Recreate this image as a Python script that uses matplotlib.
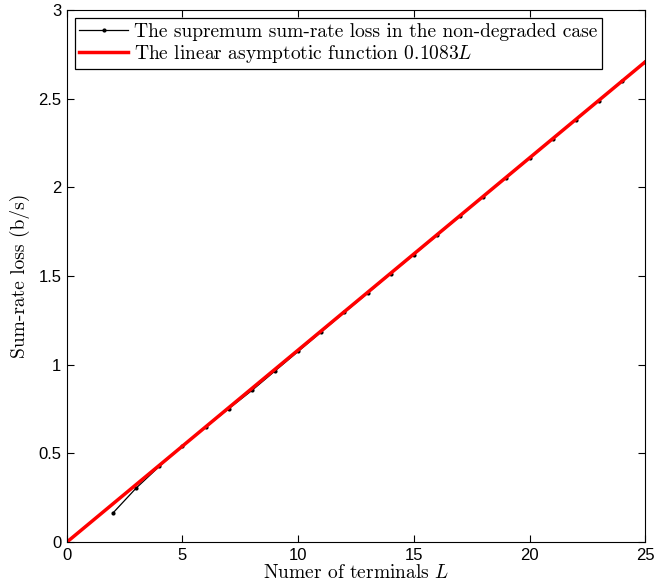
import matplotlib
matplotlib.use("Agg")
import matplotlib.pyplot as plt
import numpy as np

# number of terminals and supremum sum-rate loss (b/s)
terminals = [2, 3, 4, 5, 6, 7, 8, 9, 10, 11, 12, 13, 14, 15, 16, 17, 18, 19,
             20, 21, 22, 23, 24, 25]
sum_rate_loss = [0.165, 0.305, 0.427, 0.541, 0.648, 0.752, 0.855, 0.965,
                 1.075, 1.185, 1.295, 1.403, 1.513, 1.620, 1.729, 1.838,
                 1.947, 2.055, 2.163, 2.272, 2.381, 2.489, 2.597, 2.706]
slope = 0.1083
line_x = [0, 25]

plt.rcParams['mathtext.fontset'] = 'cm'
plt.rcParams['axes.unicode_minus'] = False

fig = plt.figure(figsize=(6.55, 5.88), dpi=100)
ax = fig.add_axes([0.102, 0.078, 0.883, 0.905])

ax.plot(terminals, sum_rate_loss, color='black', linewidth=0.9, marker='.',
        markersize=4, label='The supremum sum-rate loss in the non-degraded case')
ax.plot(line_x, [slope * x for x in line_x], color='red', linewidth=2.5,
        label=r'The linear asymptotic function $0.1083L$')

ax.set_xlim(0, 25)
ax.set_ylim(0, 3)
ax.set_xticks([0, 5, 10, 15, 20, 25])
ax.set_yticks([0, 0.5, 1, 1.5, 2, 2.5, 3])
ax.set_yticklabels(['0', '0.5', '1', '1.5', '2', '2.5', '3'])
ax.tick_params(direction='in', top=True, right=True, labelsize=12, length=5,
               pad=4)
for lab in ax.get_xticklabels() + ax.get_yticklabels():
    lab.set_family('Liberation Sans')

ax.set_xlabel(r'Numer of terminals $L$', family='cmr10', fontsize=14, labelpad=1)
ax.set_ylabel('Sum-rate loss (b/s)', family='cmr10', fontsize=14, labelpad=6)

leg = ax.legend(loc='upper left', prop={'family': 'cmr10', 'size': 14},
                fancybox=False, framealpha=1, edgecolor='black',
                borderpad=0.25, handlelength=2.5, handletextpad=0.3,
                labelspacing=0.1, borderaxespad=0.4)
leg.get_frame().set_linewidth(0.9)

fig.savefig('out.png', dpi=100)
